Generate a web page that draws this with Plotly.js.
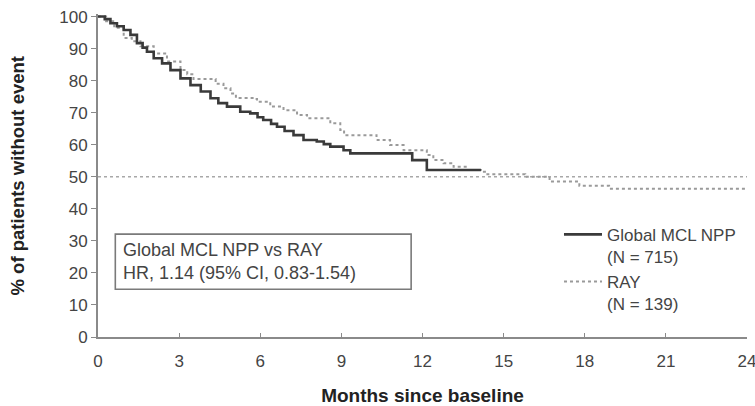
<!DOCTYPE html>
<html>
<head>
<meta charset="utf-8">
<script src="https://cdn.plot.ly/plotly-3.0.1.min.js"></script>
<style>html,body{margin:0;padding:0;background:#fff;}#chart{width:755px;height:406px;}</style>
</head>
<body>
<div id="chart"></div>
<script>
// Global MCL NPP (Kaplan-Meier, % without event)
var nppMonths = [0, 0.25, 0.46, 0.7, 0.95, 1.2, 1.44, 1.65, 1.81, 2.06, 2.37, 2.68, 3.05, 3.42, 3.8, 4.16, 4.45, 4.77, 5.26, 5.63, 5.9, 6.11, 6.4, 6.62, 6.9, 7.23, 7.6, 8.09, 8.35, 8.59, 9.08, 9.33, 11.62, 12.16, 14.16];
var nppSurv   = [100, 99.2, 97.9, 97, 95.8, 94.3, 91.7, 90.3, 89, 87, 85.4, 83.3, 80.7, 78.6, 76.6, 74.5, 73, 71.9, 70.3, 69.8, 68.6, 67.7, 66.5, 65.6, 64.3, 63, 61.5, 61, 60.2, 59.4, 58.3, 57.3, 55.2, 52.1, 52.1];
// RAY
var rayMonths = [0, 0.3, 0.6, 0.95, 1.25, 1.57, 2.06, 2.55, 3.05, 3.3, 3.53, 4.1, 4.35, 4.64, 4.9, 5.1, 5.8, 5.88, 6.37, 6.86, 7.36, 7.73, 8.37, 8.59, 8.96, 9.1, 10.07, 10.3, 10.8, 11.3, 11.92, 12.16, 12.4, 12.78, 13.15, 13.65, 14.16, 14.4, 15.8, 16.7, 17.8, 18.9, 24];
var raySurv   = [100, 98.5, 96.5, 93.3, 92.3, 90.7, 88.5, 86, 83.3, 82, 80.5, 80.5, 79, 77.6, 76, 74.6, 74.3, 73.4, 71.9, 70.8, 69.3, 68.3, 68.3, 66.7, 64.6, 63, 63, 61.5, 59.9, 58.3, 58.3, 56.8, 55.2, 54.2, 53.1, 52.1, 51.6, 50.8, 50.0, 48.5, 47.2, 46.3, 46.3];
// 50% reference line
var refMonths = [0, 24];
var refLevel  = [50, 50];
var xTicks = [0, 3, 6, 9, 12, 15, 18, 21, 24];
var yTicks = [0, 10, 20, 30, 40, 50, 60, 70, 80, 90, 100];
var seriesNames = ['Global MCL NPP<br>(N = 715)', 'RAY<br>(N = 139)'];
var hrLines = ['Global MCL NPP vs RAY', 'HR, 1.14 (95% CI, 0.83-1.54)'];
var xTitle = 'Months since baseline';
var yTitle = '% of patients without event';

var FONT = 'Liberation Sans, Arial, sans-serif';
var traces = [
  {x: refMonths, y: refLevel, mode: 'lines', showlegend: false, hoverinfo: 'skip',
   line: {color: '#a8a8a8', width: 1.6, dash: 'dot'}},
  {x: rayMonths, y: raySurv, mode: 'lines', name: seriesNames[1], line: {shape: 'hv', color: '#9a9a9a', width: 2, dash: 'dot'}},
  {x: nppMonths, y: nppSurv, mode: 'lines', name: seriesNames[0], line: {shape: 'hv', color: '#3a3a3a', width: 2.6}}
];

var layout = {
  width: 755, height: 406,
  margin: {l: 98, r: 8, t: 14, b: 69},
  paper_bgcolor: '#fff', plot_bgcolor: '#fff',
  font: {family: FONT, color: '#333', size: 17},
  showlegend: true,
  legend: {x: 0.7103, y: 0.372, xanchor: 'left', yanchor: 'top', valign: 'top',
           traceorder: 'reversed', font: {size: 17, color: '#444', family: FONT},
           bgcolor: 'rgba(0,0,0,0)', borderwidth: 0, tracegroupgap: 3, itemwidth: 38},
  xaxis: {range: [0, 24], tickvals: xTicks, ticktext: xTicks.map(String), showgrid: false, zeroline: false,
          showline: true, linecolor: '#8a8a8a', linewidth: 2, ticks: 'inside', ticklen: 4, tickcolor: '#8a8a8a',
          ticklabelstandoff: 8, ticklabeloverflow: 'allow', automargin: false, tickfont: {size: 17, color: '#444'},
          title: {text: '<b>' + xTitle + '</b>', font: {size: 19, color: '#222'}, standoff: 20}},
  yaxis: {range: [0, 100.8], tickvals: yTicks, ticktext: yTicks.map(String), showgrid: false, zeroline: false,
          showline: true, linecolor: '#8a8a8a', linewidth: 2, ticks: 'outside', ticklen: 5, tickcolor: '#8a8a8a',
          automargin: false, tickfont: {size: 17, color: '#444'}},
  shapes: [{type: 'rect', xref: 'x', yref: 'y', x0: 0.64, x1: 11.58, y0: 14.9, y1: 32.1,
            line: {color: '#7a7a7a', width: 1.6}, fillcolor: 'rgba(0,0,0,0)'}],
  annotations: [
    {xref: 'x', yref: 'y', x: 0.86, y: 23.6, xanchor: 'left', yanchor: 'middle', align: 'left',
     showarrow: false, text: hrLines.join('<br>'), font: {size: 18, color: '#444', family: FONT}},
    {xref: 'paper', yref: 'paper', x: -0.1233, y: 0.5, xanchor: 'center', yanchor: 'middle', textangle: -90,
     showarrow: false, text: '<b>' + yTitle + '</b>', font: {size: 18.5, color: '#222', family: FONT}}
  ]
};

Plotly.newPlot('chart', traces, layout, {displayModeBar: false, staticPlot: true});
</script>
</body>
</html>
